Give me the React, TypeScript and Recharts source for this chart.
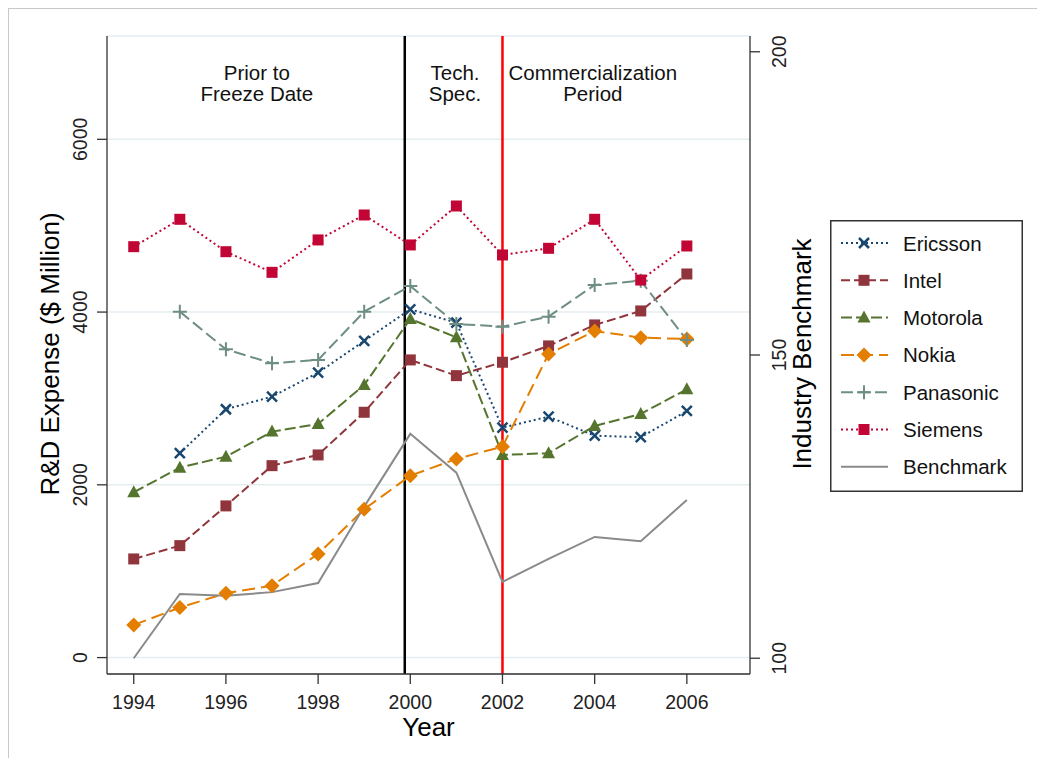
import React from 'react';
import {
  ComposedChart,
  Line,
  XAxis,
  YAxis,
  CartesianGrid,
  ReferenceLine,
  ReferenceDot,
  Legend,
} from 'recharts';

// ---------- data ----------
const years = [1994, 1995, 1996, 1997, 1998, 1999, 2000, 2001, 2002, 2003, 2004, 2005, 2006];
const ericsson = [null, 2366, 2875, 3021, 3299, 3666, 4032, 3877, 2662, 2789, 2569, 2551, 2855];
const intel = [1142, 1296, 1756, 2222, 2346, 2840, 3446, 3264, 3419, 3608, 3851, 4013, 4441];
const motorola = [1914, 2199, 2326, 2616, 2705, 3156, 3920, 3708, 2346, 2366, 2682, 2821, 3106];
const nokia = [378, 579, 745, 833, 1200, 1717, 2106, 2300, 2442, 3515, 3781, 3704, 3689];
const panasonic = [null, 4005, 3569, 3407, 3446, 4005, 4302, 3862, 3831, 3947, 4314, 4363, 3677];
const siemens = [4757, 5074, 4699, 4460, 4835, 5124, 4777, 5228, 4661, 4738, 5074, 4371, 4765];
const benchmark = [100, 110.6, 110.3, 110.9, 112.4, 125, 137, 130.6, 112.6, 116.4, 120, 119.3, 126.1];

const xTicks = [1994, 1996, 1998, 2000, 2002, 2004, 2006];
const leftTicks = [0, 2000, 4000, 6000];
const rightTicks = [100, 150, 200];

const freezeLineYear = 1999.88;
const commercialLineYear = 2002;

const annotations = [
  { x: 1996.67, lines: ['Prior to', 'Freeze Date'] },
  { x: 2000.97, lines: ['Tech.', 'Spec.'] },
  { x: 2003.96, lines: ['Commercialization', 'Period'] },
];
const annotationY = 6770;

const series = [
  { key: 'Ericsson', values: ericsson, color: '#1A476F', dash: '2 3', marker: 'x', axis: 'left' },
  { key: 'Intel', values: intel, color: '#90353B', dash: '9 4', marker: 'square', axis: 'left' },
  { key: 'Motorola', values: motorola, color: '#55752F', dash: '11 4', marker: 'triangle', axis: 'left' },
  { key: 'Nokia', values: nokia, color: '#E37E00', dash: '13 6', marker: 'diamond', axis: 'left' },
  { key: 'Panasonic', values: panasonic, color: '#6E8E84', dash: '12 5', marker: 'plus', axis: 'left' },
  { key: 'Siemens', values: siemens, color: '#C10534', dash: '2 3', marker: 'square', axis: 'left' },
  { key: 'Benchmark', values: benchmark, color: '#8A8A8A', dash: undefined, marker: 'none', axis: 'right' },
];

const data = years.map((year, i) => {
  const row: Record<string, number | null> = { year };
  series.forEach((s) => {
    row[s.key] = s.values[i];
  });
  return row;
});

const FONT = '"Liberation Sans", Arial, sans-serif';

// ---------- helpers ----------
function Marker({ cx, cy, type, color }: { cx: number; cy: number; type: string; color: string }) {
  switch (type) {
    case 'square':
      return <rect x={cx - 5.5} y={cy - 5.5} width={11} height={11} fill={color} />;
    case 'triangle':
      return <polygon points={`${cx},${cy - 7} ${cx + 6.5},${cy + 5} ${cx - 6.5},${cy + 5}`} fill={color} />;
    case 'diamond':
      return <polygon points={`${cx},${cy - 7.5} ${cx + 7.5},${cy} ${cx},${cy + 7.5} ${cx - 7.5},${cy}`} fill={color} />;
    case 'x':
      return (
        <path
          d={`M${cx - 5},${cy - 5}L${cx + 5},${cy + 5}M${cx - 5},${cy + 5}L${cx + 5},${cy - 5}`}
          stroke={color}
          strokeWidth={2.5}
        />
      );
    case 'plus':
      return (
        <path d={`M${cx - 7},${cy}L${cx + 7},${cy}M${cx},${cy - 7}L${cx},${cy + 7}`} stroke={color} strokeWidth={2} />
      );
    default:
      return null;
  }
}

const makeDot = (type: string, color: string) => (p: any) => {
  const key = `${p.dataKey}-${p.index}`;
  if (type === 'none' || p.value == null || p.cx == null || p.cy == null) return <g key={key} />;
  return (
    <g key={key}>
      <Marker cx={p.cx} cy={p.cy} type={type} color={color} />
    </g>
  );
};

const LeftTick = (props: any) => {
  const { x, y, payload } = props;
  const cx = x - 15;
  return (
    <text
      x={cx}
      y={y}
      transform={`rotate(-90 ${cx} ${y})`}
      textAnchor="middle"
      dominantBaseline="central"
      fontFamily={FONT}
      fontSize={19.5}
      fill="#222"
    >
      {payload.value}
    </text>
  );
};

const RightTick = (props: any) => {
  const { x, y, payload } = props;
  const cx = x + 17;
  return (
    <text
      x={cx}
      y={y}
      transform={`rotate(-90 ${cx} ${y})`}
      textAnchor="middle"
      dominantBaseline="central"
      fontFamily={FONT}
      fontSize={19.5}
      fill="#222"
    >
      {payload.value}
    </text>
  );
};

const BottomTick = (props: any) => {
  const { x, y, payload } = props;
  return (
    <text x={x} y={y + 16} textAnchor="middle" dominantBaseline="central" fontFamily={FONT} fontSize={19.5} fill="#222">
      {payload.value}
    </text>
  );
};

const LegendContent = () => {
  const rowH = 37.3;
  return (
    <svg width={193} height={272} style={{ display: 'block' }}>
      <rect x={0.75} y={0.75} width={191.5} height={270.5} fill="#fff" stroke="#333" strokeWidth={1.5} />
      {series.map((s, i) => {
        const cy = 23 + i * rowH;
        return (
          <g key={s.key}>
            <line
              x1={11}
              x2={58}
              y1={cy}
              y2={cy}
              stroke={s.color}
              strokeWidth={2}
              strokeDasharray={s.dash}
            />
            <Marker cx={34} cy={cy} type={s.marker} color={s.color} />
            <text x={73} y={cy} dominantBaseline="central" fontFamily={FONT} fontSize={20.5} fill="#111">
              {s.key}
            </text>
          </g>
        );
      })}
    </svg>
  );
};

const annotationShape = (lines: string[]) => (p: any) => {
  const { cx, cy } = p;
  return (
    <g>
      {lines.map((t, i) => (
        <text
          key={t}
          x={cx}
          y={cy + i * 21}
          textAnchor="middle"
          dominantBaseline="central"
          fontFamily={FONT}
          fontSize={20.5}
          fill="#111"
        >
          {t}
        </text>
      ))}
    </g>
  );
};

export default function App() {
  return (
    <div style={{ position: 'relative', width: 1037, height: 750 }}>
      <div
        style={{
          position: 'absolute',
          left: 0,
          top: 0,
          width: 1037,
          height: 750,
          borderTop: '1px solid #c8c8c8',
          borderLeft: '1px solid #c8c8c8',
          boxSizing: 'border-box',
        }}
      />
      <div style={{ position: 'absolute', left: 0, top: 0 }}>
        <ComposedChart width={1029} height={742} data={data} margin={{ top: 28, right: 227, bottom: 16, left: 0 }}>
          <CartesianGrid yAxisId="left" vertical={false} stroke="#e4edf0" strokeWidth={1.5} />
          <XAxis
            dataKey="year"
            type="number"
            domain={[1993.42, 2007.37]}
            ticks={xTicks}
            allowDataOverflow
            height={60}
            tickSize={10}
            tickMargin={2}
            stroke="#333"
            strokeWidth={1.3}
            tick={<BottomTick />}
            label={{
              content: (p: any) => {
                const vb = p.viewBox || {};
                return (
                  <text
                    x={vb.x + vb.width / 2}
                    y={vb.y + 53}
                    textAnchor="middle"
                    dominantBaseline="central"
                    fontFamily={FONT}
                    fontSize={26}
                    fill="#000"
                  >
                    Year
                  </text>
                );
              },
            }}
          />
          <YAxis
            yAxisId="left"
            orientation="left"
            type="number"
            domain={[-190, 7196]}
            ticks={leftTicks}
            allowDataOverflow
            width={99}
            tickSize={10}
            tickMargin={2}
            stroke="#333"
            strokeWidth={1.3}
            tick={<LeftTick />}
            label={{
              content: (p: any) => {
                const vb = p.viewBox || {};
                const cx = vb.x + 42;
                const cy = vb.y + vb.height / 2 - 1;
                return (
                  <text
                    x={cx}
                    y={cy}
                    transform={`rotate(-90 ${cx} ${cy})`}
                    textAnchor="middle"
                    dominantBaseline="central"
                    fontFamily={FONT}
                    fontSize={26}
                    fill="#000"
                  >
                    R&amp;D Expense ($ Million)
                  </text>
                );
              },
            }}
          />
          <YAxis
            yAxisId="right"
            orientation="right"
            type="number"
            domain={[97.4, 202.6]}
            ticks={rightTicks}
            allowDataOverflow
            width={60}
            tickSize={10}
            tickMargin={2}
            stroke="#333"
            strokeWidth={1.3}
            tick={<RightTick />}
            label={{
              content: (p: any) => {
                const vb = p.viewBox || {};
                const cx = vb.x + 52;
                const cy = vb.y + vb.height / 2 - 1;
                return (
                  <text
                    x={cx}
                    y={cy}
                    transform={`rotate(-90 ${cx} ${cy})`}
                    textAnchor="middle"
                    dominantBaseline="central"
                    fontFamily={FONT}
                    fontSize={26}
                    fill="#000"
                  >
                    Industry Benchmark
                  </text>
                );
              },
            }}
          />
          <ReferenceLine yAxisId="left" x={freezeLineYear} stroke="#000" strokeWidth={2.5} />
          <ReferenceLine yAxisId="left" x={commercialLineYear} stroke="#ff0000" strokeWidth={2.5} />
          {annotations.map((a) => (
            <ReferenceDot
              key={a.lines[0]}
              yAxisId="left"
              x={a.x}
              y={annotationY}
              r={0}
              shape={annotationShape(a.lines)}
            />
          ))}
          {series.map((s) => (
            <Line
              key={s.key}
              yAxisId={s.axis}
              dataKey={s.key}
              name={s.key}
              type="linear"
              stroke={s.color}
              strokeWidth={2}
              strokeDasharray={s.dash}
              dot={makeDot(s.marker, s.color)}
              activeDot={false}
              isAnimationActive={false}
            />
          ))}
          <Legend
            layout="vertical"
            align="center"
            verticalAlign="middle"
            content={<LegendContent />}
            wrapperStyle={{ position: 'absolute', left: 822, top: 212, width: 193, height: 272 }}
          />
        </ComposedChart>
      </div>
    </div>
  );
}
